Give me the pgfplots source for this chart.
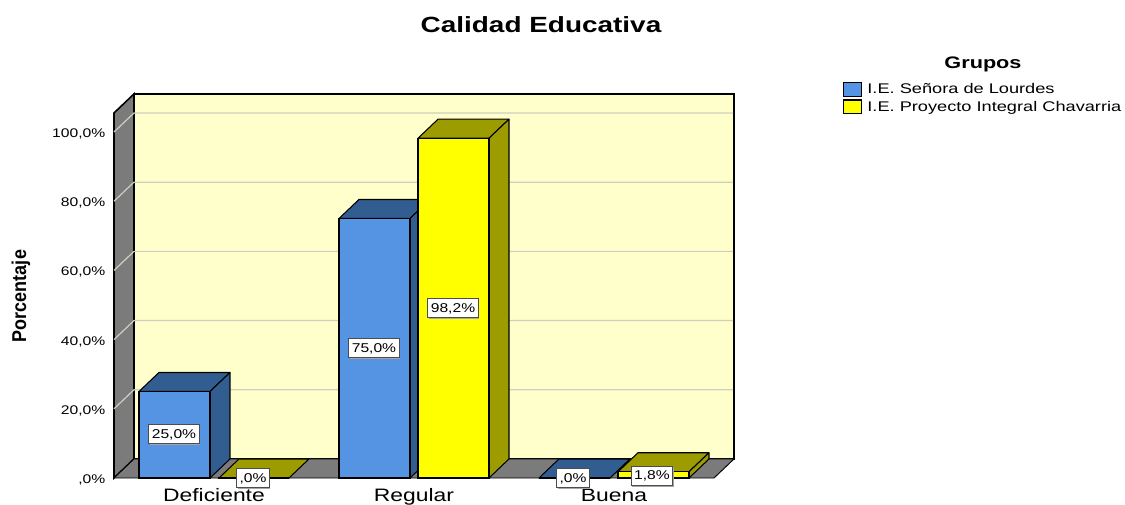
\documentclass[border=0pt]{standalone}
\usepackage{pgfplots}
\pgfplotsset{compat=1.18}
\usepackage{fontspec}
\setmainfont{Liberation Sans}
\usetikzlibrary{shadows}
\definecolor{wall}{HTML}{FFFFCC}
\definecolor{side}{HTML}{7B7B7B}
\definecolor{gridc}{HTML}{CFCFC0}
\definecolor{blueF}{HTML}{5593E3}
\definecolor{blueD}{HTML}{325D91}
\definecolor{yelF}{HTML}{FFFF00}
\definecolor{yelD}{HTML}{9C9C00}
\newcommand{\sx}[2][1.25]{\scalebox{#1}[1]{#2}}
\pgfplotsset{face/.style={draw=black,line width=0.8pt,line join=round,forget plot}}
\begin{document}
\begin{tikzpicture}
\begin{axis}[
  x=0.75pt, y=2.595pt,
  xmin=114, xmax=734, ymin=0, ymax=111,
  clip=false,
  axis line style={draw=none},
  major tick length=0pt,
  tick pos=left,
  xtick={214,414,614},
  xticklabels={\sx[1.27]{Deficiente},\sx[1.27]{Regular},\sx[1.27]{Buena}},
  xticklabel style={font=\fontsize{13.5}{14}\selectfont,anchor=base,yshift=-17.5pt},
  ytick={0,20,40,60,80,100},
  yticklabels={{\sx{,0\%}},{\sx{20,0\%}},{\sx{40,0\%}},{\sx{60,0\%}},{\sx{80,0\%}},{\sx{100,0\%}}},
  yticklabel style={font=\fontsize{9.4}{10}\selectfont,anchor=east,xshift=-3pt,yshift=-1.5pt},
  every axis title/.style={at={(axis cs:541,130.9)},anchor=center},
  title={\fontsize{16.5}{18}\selectfont\bfseries\sx[1.27]{Calidad Educativa}},
  every axis y label/.style={at={(axis cs:21,52.6)},rotate=90,anchor=center},
  ylabel={\fontsize{15}{16}\selectfont\bfseries\sx[0.9]{Porcentaje}},
  legend style={at={(axis cs:843,114.7)},anchor=north west,draw=none,fill=none,
    font=\fontsize{10.5}{12}\selectfont,row sep=1.2pt,inner sep=0pt,outer sep=0pt,
    nodes={inner sep=1.5pt}},
  legend cell align=left,
]
% walls and floor
\addplot[forget plot,fill=wall,draw=black,line width=1.2pt] coordinates {(134,5.5)(734,5.5)(734,111)(134,111)} -- cycle;
\addplot[forget plot,fill=side,draw=black,line width=1.2pt] coordinates {(114,0)(134,5.5)(134,111)(114,105.5)} -- cycle;
\addplot[forget plot,fill=side,draw=black,line width=0.7pt] coordinates {(114,0)(134,5.5)(734,5.5)(714,0)} -- cycle;
% grid lines
\addplot[forget plot,draw=gridc,line width=0.9pt] coordinates {(114,20)(134,25.5)(733,25.5)};
\addplot[forget plot,draw=gridc,line width=0.9pt] coordinates {(114,40)(134,45.5)(733,45.5)};
\addplot[forget plot,draw=gridc,line width=0.9pt] coordinates {(114,60)(134,65.5)(733,65.5)};
\addplot[forget plot,draw=gridc,line width=0.9pt] coordinates {(114,80)(134,85.5)(733,85.5)};
\addplot[forget plot,draw=gridc,line width=0.9pt] coordinates {(114,100)(134,105.5)(733,105.5)};
% blue tops and sides
\addplot[face,fill=blueD] coordinates {(139,25)(210,25)(230,30.5)(159,30.5)} -- cycle;
\addplot[face,fill=blueD] coordinates {(210,0)(230,5.5)(230,30.5)(210,25)} -- cycle;
\addplot[face,fill=blueD] coordinates {(339,75)(410,75)(430,80.5)(359,80.5)} -- cycle;
\addplot[face,fill=blueD] coordinates {(410,0)(430,5.5)(430,80.5)(410,75)} -- cycle;
\addplot[face,fill=blueD] coordinates {(539,0)(610,0)(630,5.5)(559,5.5)} -- cycle;
% blue fronts
\addplot[ybar,bar width=53.25pt,bar shift=0pt,fill=blueF,draw=black,line width=0.8pt,
  /pgfplots/legend image code/.code={\draw[draw=black,line width=0.8pt,fill=blueF] (0pt,-5.2pt) rectangle (13.5pt,5.2pt); \path (16pt,0pt);}]
  coordinates {(174.5,25)(374.5,75)(574.5,0)};
\addlegendentry{\sx[1.3]{I.E. Señora de Lourdes}}
% yellow tops and sides
\addplot[face,fill=yelD] coordinates {(219,0)(289,0)(309,5.5)(239,5.5)} -- cycle;
\addplot[face,fill=yelD] coordinates {(418,98.2)(489,98.2)(509,103.7)(438,103.7)} -- cycle;
\addplot[face,fill=yelD] coordinates {(489,0)(509,5.5)(509,103.7)(489,98.2)} -- cycle;
\addplot[face,fill=yelD] coordinates {(618,1.8)(689,1.8)(709,7.3)(638,7.3)} -- cycle;
\addplot[face,fill=yelD] coordinates {(689,0)(709,5.5)(709,7.3)(689,1.8)} -- cycle;
% yellow fronts
\addplot[ybar,bar width=53.25pt,bar shift=0pt,fill=yelF,draw=black,line width=0.8pt,
  /pgfplots/legend image code/.code={\draw[draw=black,line width=0.8pt,fill=yelF] (0pt,-5.2pt) rectangle (13.5pt,5.2pt); \path (16pt,0pt);}]
  coordinates {(253.5,0)(453.5,98.2)(653.5,1.8)};
\addlegendentry{\sx[1.3]{I.E. Proyecto Integral Chavarria}}
% value labels
\addplot[forget plot,draw=none,mark=none,
  point meta=explicit symbolic,
  nodes near coords={\sx[1.22]{\pgfplotspointmeta\%}},
  nodes near coords style={anchor=center,fill=white,draw=black!70,line width=0.7pt,
    font=\fontsize{9.6}{10}\selectfont,inner sep=2.2pt,text height=8pt,text depth=2pt,
    general shadow={shadow xshift=0.8pt,shadow yshift=-0.8pt,fill=black!35}},
] table[x=x,y=y,meta=l] {
x y l
174 12.7 25,0
253 0 ,0
374 37.5 75,0
453 49.1 98,2
573 0 ,0
652 0.6 1,8
};
\node[anchor=center,font=\fontsize{12.5}{14}\selectfont\bfseries] at (axis cs:983,119.6) {\sx[1.3]{Grupos}};
\end{axis}
\pgfresetboundingbox
\path[use as bounding box] (-85.5pt,-19.5pt) rectangle (758.25pt,358.5pt);
\end{tikzpicture}
\end{document}
